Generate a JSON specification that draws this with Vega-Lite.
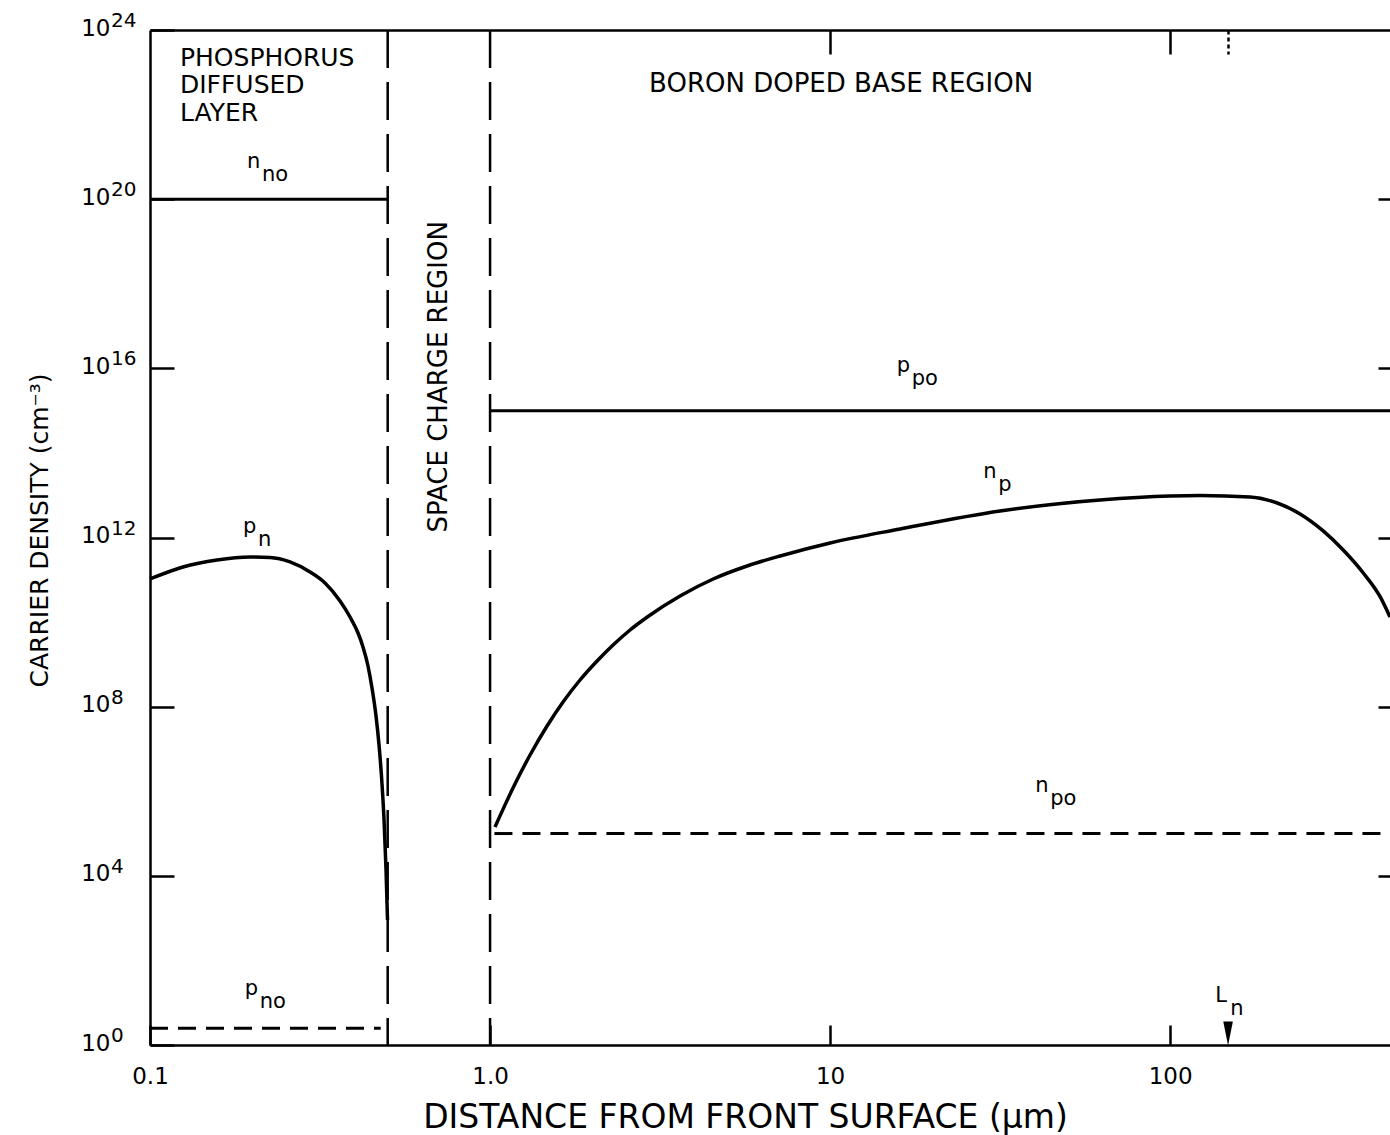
{
  "$schema": "https://vega.github.io/schema/vega-lite/v6.json",
  "width": 1240,
  "height": 1015,
  "autosize": {"type": "none"},
  "padding": {"left": 150, "top": 30, "right": 0, "bottom": 90},
  "background": "white",
  "config": {
    "view": {"stroke": null},
    "text": {"font": "DejaVu Sans", "color": "black"},
    "axis": {
      "grid": false,
      "domainColor": "black",
      "domainWidth": 2.5,
      "tickColor": "black",
      "tickWidth": 2.5,
      "labelColor": "black",
      "labelFont": "DejaVu Sans",
      "titleColor": "black",
      "titleFont": "DejaVu Sans",
      "titleFontWeight": "normal",
      "labelFlush": false,
      "labelOverlap": false
    }
  },
  "resolve": {"axis": {"x": "independent", "y": "independent"}},
  "datasets": {
    "solid": [
      {"name": "n_no", "x": 0.1, "x2": 0.5, "y": 1e20},
      {"name": "p_po", "x": 1.0, "x2": 443, "y": 1e15}
    ],
    "dashed": [
      {"name": "p_no", "x": 0.1, "x2": 0.477, "y": 2.5},
      {"name": "n_po", "x": 1.03, "x2": 443, "y": 1e5}
    ],
    "bounds": [
      {"name": "junction", "x": 0.5},
      {"name": "depletion edge", "x": 1.0}
    ],
    "curves": [
      {"series": "p_n", "x": 0.1, "y": 1.045e11},
      {"series": "p_n", "x": 0.125, "y": 2.01e11},
      {"series": "p_n", "x": 0.1574, "y": 2.94e11},
      {"series": "p_n", "x": 0.1968, "y": 3.46e11},
      {"series": "p_n", "x": 0.2254, "y": 3.37e11},
      {"series": "p_n", "x": 0.2581, "y": 2.64e11},
      {"series": "p_n", "x": 0.2955, "y": 1.53e11},
      {"series": "p_n", "x": 0.3271, "y": 8.41e10},
      {"series": "p_n", "x": 0.3621, "y": 3.16e10},
      {"series": "p_n", "x": 0.3875, "y": 1.32e10},
      {"series": "p_n", "x": 0.4091, "y": 5.52e9},
      {"series": "p_n", "x": 0.423, "y": 2.58e9},
      {"series": "p_n", "x": 0.4376, "y": 9.16e8},
      {"series": "p_n", "x": 0.4496, "y": 2.77e8},
      {"series": "p_n", "x": 0.462, "y": 6.02e7},
      {"series": "p_n", "x": 0.4715, "y": 1.24e7},
      {"series": "p_n", "x": 0.4813, "y": 1.41e6},
      {"series": "p_n", "x": 0.4878, "y": 2.09e5},
      {"series": "p_n", "x": 0.4944, "y": 1.37e4},
      {"series": "p_n", "x": 0.4994, "y": 904},
      {"series": "n_p", "x": 1.034, "y": 1.43e5},
      {"series": "n_p", "x": 1.168, "y": 1.194e6},
      {"series": "n_p", "x": 1.311, "y": 7.2e6},
      {"series": "n_p", "x": 1.471, "y": 3.49e7},
      {"series": "n_p", "x": 1.639, "y": 1.29e8},
      {"series": "n_p", "x": 1.839, "y": 4.27e8},
      {"series": "n_p", "x": 2.064, "y": 1.2e9},
      {"series": "n_p", "x": 2.3, "y": 2.87e9},
      {"series": "n_p", "x": 2.58, "y": 6.5e9},
      {"series": "n_p", "x": 2.9, "y": 1.32e10},
      {"series": "n_p", "x": 3.62, "y": 4.14e10},
      {"series": "n_p", "x": 4.53, "y": 1.045e11},
      {"series": "n_p", "x": 5.7, "y": 2.12e11},
      {"series": "n_p", "x": 7.13, "y": 3.66e11},
      {"series": "n_p", "x": 10.0, "y": 7.43e11},
      {"series": "n_p", "x": 16.07, "y": 1.59e12},
      {"series": "n_p", "x": 31.6, "y": 4.24e12},
      {"series": "n_p", "x": 62.2, "y": 7.71e12},
      {"series": "n_p", "x": 100, "y": 9.59e12},
      {"series": "n_p", "x": 122.5, "y": 9.86e12},
      {"series": "n_p", "x": 171.9, "y": 9.08e12},
      {"series": "n_p", "x": 206.4, "y": 6.55e12},
      {"series": "n_p", "x": 241, "y": 3.6e12},
      {"series": "n_p", "x": 281.8, "y": 1.43e12},
      {"series": "n_p", "x": 322.7, "y": 5.07e11},
      {"series": "n_p", "x": 369.7, "y": 1.45e11},
      {"series": "n_p", "x": 414.7, "y": 3.93e10},
      {"series": "n_p", "x": 443, "y": 1.32e10}
    ],
    "exponents": [
      {"y": 1, "e": "0"},
      {"y": 1e4, "e": "4"},
      {"y": 1e8, "e": "8"},
      {"y": 1e12, "e": "12"},
      {"y": 1e16, "e": "16"},
      {"y": 1e20, "e": "20"},
      {"y": 1e24, "e": "24"}
    ],
    "symbols": [
      {"x": 0.1929, "y": 5.5e20, "main": "n", "sub": "no"},
      {"x": 0.1877, "y": 1.28e12, "main": "p", "sub": "n"},
      {"x": 0.19, "y": 15.2, "main": "p", "sub": "no"},
      {"x": 15.7, "y": 8.2e15, "main": "p", "sub": "po"},
      {"x": 28.2, "y": 2.56e13, "main": "n", "sub": "p"},
      {"x": 40.1, "y": 9.6e5, "main": "n", "sub": "po"},
      {"x": 135.6, "y": 10.4, "main": "L", "sub": "n"}
    ],
    "marker": [
      {"name": "L_n", "x": 148, "y": 1.87}
    ]
  },
  "layer": [
    {
      "data": {"name": "bounds"},
      "mark": {"type": "rule", "color": "black", "strokeWidth": 2.5, "strokeDash": [38, 14]},
      "encoding": {
        "x": {"field": "x", "type": "quantitative", "axis": null}
      }
    },
    {
      "data": {"name": "solid"},
      "mark": {"type": "rule", "color": "black", "strokeWidth": 3},
      "encoding": {
        "x": {
          "field": "x",
          "type": "quantitative",
          "scale": {"type": "log", "domain": [0.1, 443], "nice": false},
          "axis": {
            "orient": "bottom",
            "values": [0.1, 1, 10, 100],
            "labelExpr": "datum.value < 0.5 ? '0.1' : datum.value < 5 ? '1.0' : datum.value < 50 ? '10' : '100'",
            "tickSize": -20,
            "labelPadding": 40,
            "labelFontSize": 23,
            "title": "DISTANCE FROM FRONT SURFACE (µm)",
            "titleFontSize": 33,
            "titleX": 595,
            "titleY": 72,
            "titleBaseline": "middle"
          }
        },
        "x2": {"field": "x2"},
        "y": {
          "field": "y",
          "type": "quantitative",
          "scale": {"type": "log", "domain": [1, 1e24], "nice": false},
          "axis": {
            "orient": "left",
            "values": [1, 1e4, 1e8, 1e12, 1e16, 1e20, 1e24],
            "labelExpr": "'10'",
            "tickSize": -24,
            "labelPadding": 64,
            "labelOffset": -2,
            "labelFontSize": 23,
            "title": "CARRIER DENSITY (cm⁻³)",
            "titleFontSize": 25,
            "titleX": -111,
            "titleY": 500,
            "titleBaseline": "middle"
          }
        }
      }
    },
    {
      "data": {"name": "dashed"},
      "mark": {"type": "rule", "color": "black", "strokeWidth": 3, "strokeDash": [18, 10]},
      "encoding": {
        "x": {
          "field": "x",
          "type": "quantitative",
          "axis": {
            "orient": "top",
            "values": [10, 100, 148],
            "labels": false,
            "title": null,
            "tickSize": -24,
            "tickDash": {"condition": {"test": "datum.value > 120", "value": [4, 3]}, "value": []}
          }
        },
        "x2": {"field": "x2"},
        "y": {
          "field": "y",
          "type": "quantitative",
          "axis": {
            "orient": "right",
            "values": [1e4, 1e8, 1e12, 1e16, 1e20],
            "labels": false,
            "domain": false,
            "title": null,
            "tickSize": -12
          }
        }
      }
    },
    {
      "data": {"name": "curves"},
      "mark": {"type": "line", "color": "black", "strokeWidth": 3.5, "interpolate": "monotone"},
      "encoding": {
        "x": {"field": "x", "type": "quantitative", "axis": null},
        "y": {"field": "y", "type": "quantitative", "axis": null},
        "detail": {"field": "series"}
      }
    },
    {
      "data": {"name": "marker"},
      "mark": {"type": "point", "shape": "M -0.4 -1 L 0.4 -1 L 0 1 Z", "filled": true, "color": "black", "size": 576, "opacity": 1},
      "encoding": {
        "x": {"field": "x", "type": "quantitative", "axis": null},
        "y": {"field": "y", "type": "quantitative", "axis": null}
      }
    },
    {
      "data": {"name": "exponents"},
      "mark": {"type": "text", "align": "left", "baseline": "middle", "fontSize": 20, "dx": -39, "dy": -9},
      "encoding": {
        "x": {"datum": 0.1, "type": "quantitative", "axis": null},
        "y": {"field": "y", "type": "quantitative", "axis": null},
        "text": {"field": "e"}
      }
    },
    {
      "data": {"name": "symbols"},
      "mark": {"type": "text", "align": "left", "baseline": "alphabetic", "fontSize": 21},
      "encoding": {
        "x": {"field": "x", "type": "quantitative", "axis": null},
        "y": {"field": "y", "type": "quantitative", "axis": null},
        "text": {"field": "main"}
      }
    },
    {
      "data": {"name": "symbols"},
      "mark": {"type": "text", "align": "left", "baseline": "alphabetic", "fontSize": 21, "dx": 15, "dy": 13},
      "encoding": {
        "x": {"field": "x", "type": "quantitative", "axis": null},
        "y": {"field": "y", "type": "quantitative", "axis": null},
        "text": {"field": "sub"}
      }
    },
    {
      "data": {"values": [{"x": 0.1225, "y": 4.27e23, "label": ["PHOSPHORUS", "DIFFUSED", "LAYER"]}]},
      "mark": {"type": "text", "align": "left", "baseline": "top", "fontSize": 25, "lineHeight": 27.5},
      "encoding": {
        "x": {"field": "x", "type": "quantitative", "axis": null},
        "y": {"field": "y", "type": "quantitative", "axis": null},
        "text": {"field": "label"}
      }
    },
    {
      "data": {"values": [{"x": 10.77, "y": 1.05e23, "label": "BORON DOPED BASE REGION"}]},
      "mark": {"type": "text", "align": "center", "baseline": "top", "fontSize": 26},
      "encoding": {
        "x": {"field": "x", "type": "quantitative", "axis": null},
        "y": {"field": "y", "type": "quantitative", "axis": null},
        "text": {"field": "label"}
      }
    },
    {
      "data": {"values": [{"x": 0.706, "y": 6.3e15, "label": "SPACE CHARGE REGION"}]},
      "mark": {"type": "text", "align": "center", "baseline": "middle", "angle": 270, "fontSize": 26},
      "encoding": {
        "x": {"field": "x", "type": "quantitative", "axis": null},
        "y": {"field": "y", "type": "quantitative", "axis": null},
        "text": {"field": "label"}
      }
    }
  ]
}
